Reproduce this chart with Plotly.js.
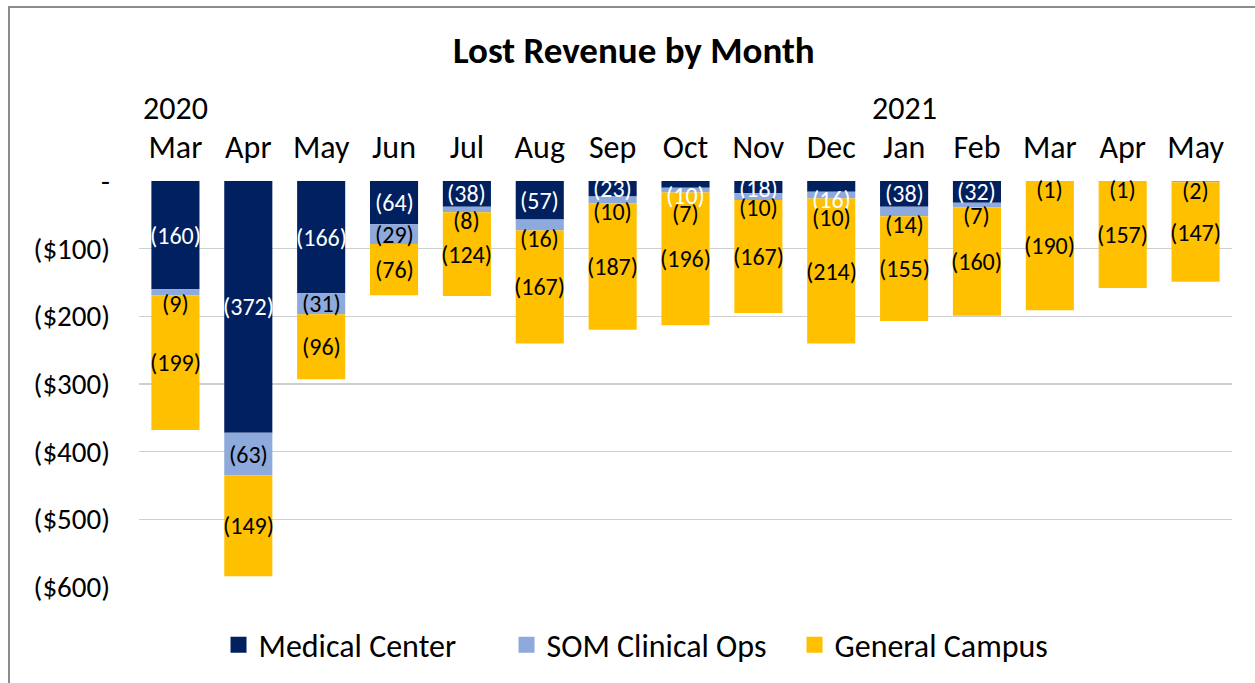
<!DOCTYPE html>
<html>
<head>
<meta charset="utf-8">
<script src="https://cdn.plot.ly/plotly-3.0.1.min.js"></script>
<style>
html,body{margin:0;padding:0;background:#fff;}
#frame{position:absolute;left:8px;top:6px;width:1300px;height:720px;border:2px solid #8c8c8c;box-sizing:border-box;}
#chart{position:absolute;left:0;top:0;width:1255px;height:683px;}
</style>
</head>
<body>
<div id="frame"></div>
<div id="chart"></div>
<script>
var categories = ["2020-03","2020-04","2020-05","2020-06","2020-07","2020-08","2020-09","2020-10","2020-11","2020-12","2021-01","2021-02","2021-03","2021-04","2021-05"];
var monthLabels = ["Mar","Apr","May","Jun","Jul","Aug","Sep","Oct","Nov","Dec","Jan","Feb","Mar","Apr","May"];
var medicalCenter = [160, 372, 166, 64, 38, 57, 23, 10, 18, 16, 38, 32, 0, 0, 0];
var somClinicalOps = [9, 63, 31, 29, 8, 16, 10, 7, 10, 10, 14, 7, 1, 1, 2];
var generalCampus = [199, 149, 96, 76, 124, 167, 187, 196, 167, 214, 155, 160, 190, 157, 147];
var seriesNames = ["Medical Center", "SOM Clinical Ops", "General Campus"];
var yearLabels = [{cat: "2020-03", text: "2020"}, {cat: "2021-01", text: "2021"}];
var yTickVals = [0, -100, -200, -300, -400, -500, -600];
var yTickText = ["-", "($100)", "($200)", "($300)", "($400)", "($500)", "($600)"];

var FONT = "Carlito, Lato, 'Open Sans', sans-serif";
var colors = ["#002060", "#8EA9DB", "#FFC000"];
var labelColors = ["#ffffff", "#000000", "#000000"];
var allSeries = [medicalCenter, somClinicalOps, generalCampus];

var W = 1255, H = 683;
var margin = {l: 139, r: 23, t: 181, b: 95};
var yRange = [-600, 0];
var pxPerUnit = (H - margin.t - margin.b) / (yRange[1] - yRange[0]);

function neg(a){ return a.map(function(v){ return -v; }); }

var data = allSeries.map(function(vals, i){
  return {
    type: "bar", name: seriesNames[i], x: categories, y: neg(vals),
    marker: {color: colors[i]}, width: 0.66, showlegend: false, hoverinfo: "name+y"
  };
});
// legend entries with larger square swatches
seriesNames.forEach(function(n, i){
  data.push({type: "scatter", mode: "markers", name: n, x: [categories[0]], y: [null],
    marker: {symbol: "square", size: 18, color: colors[i]}, showlegend: true, hoverinfo: "skip"});
});

// data labels placed at segment centres, nudged like the spreadsheet labels to avoid overlap
var annotations = [];
categories.forEach(function(cat, c){
  var cum = 0, prevPx = null;
  allSeries.forEach(function(vals, s){
    var v = vals[c];
    var topPx = cum * pxPerUnit, botPx = (cum + v) * pxPerUnit;
    cum += v;
    if (v <= 0) return;
    var px = (topPx + botPx) / 2;
    if (botPx - topPx < 12) px = botPx + 8;
    if (px < 8) px = 8;
    if (prevPx !== null && px - prevPx < 18) px = prevPx + 18;
    prevPx = px;
    annotations.push({x: cat, xref: "x", y: -px / pxPerUnit, yref: "y", text: "(" + v + ")",
      showarrow: false, xanchor: "center", yanchor: "middle",
      font: {family: FONT, size: 24, color: labelColors[s]}});
  });
});

yearLabels.forEach(function(y){
  annotations.push({x: y.cat, xref: "x", y: 1, yref: "paper", yshift: 73, text: y.text,
    showarrow: false, yanchor: "middle", font: {family: FONT, size: 32, color: "#000"}});
});

var layout = {
  width: W, height: H,
  paper_bgcolor: "rgba(0,0,0,0)", plot_bgcolor: "rgba(0,0,0,0)",
  margin: margin,
  barmode: "relative",
  title: {text: "<b>Lost Revenue by Month</b>", x: 0.505, xref: "container", xanchor: "center", y: 0.927, yanchor: "middle",
    font: {family: FONT, size: 37, color: "#000"}},
  xaxis: {side: "top", type: "category", range: [-0.5, categories.length - 0.5], autorange: false,
    tickmode: "array", tickvals: categories, ticktext: monthLabels,
    tickfont: {family: FONT, size: 32, color: "#000"}, showgrid: false, zeroline: false,
    showline: false, ticks: "", ticklabelstandoff: 16, fixedrange: true},
  yaxis: {range: yRange, autorange: false, tickmode: "array", tickvals: yTickVals, ticktext: yTickText,
    tickfont: {family: FONT, size: 29, color: "#000"}, showgrid: true, gridcolor: "#cfcfcf", gridwidth: 1.5,
    zeroline: false, showline: false, ticks: "", ticklabelstandoff: 28},
  showlegend: true,
  legend: {orientation: "h", x: 0.468, xanchor: "center", y: -0.14, yanchor: "middle",
    font: {family: FONT, size: 32, color: "#000"}, traceorder: "normal", entrywidth: 243, entrywidthmode: "pixels"},
  annotations: annotations
};

Plotly.newPlot("chart", data, layout, {displayModeBar: false, staticPlot: true});
</script>
</body>
</html>
